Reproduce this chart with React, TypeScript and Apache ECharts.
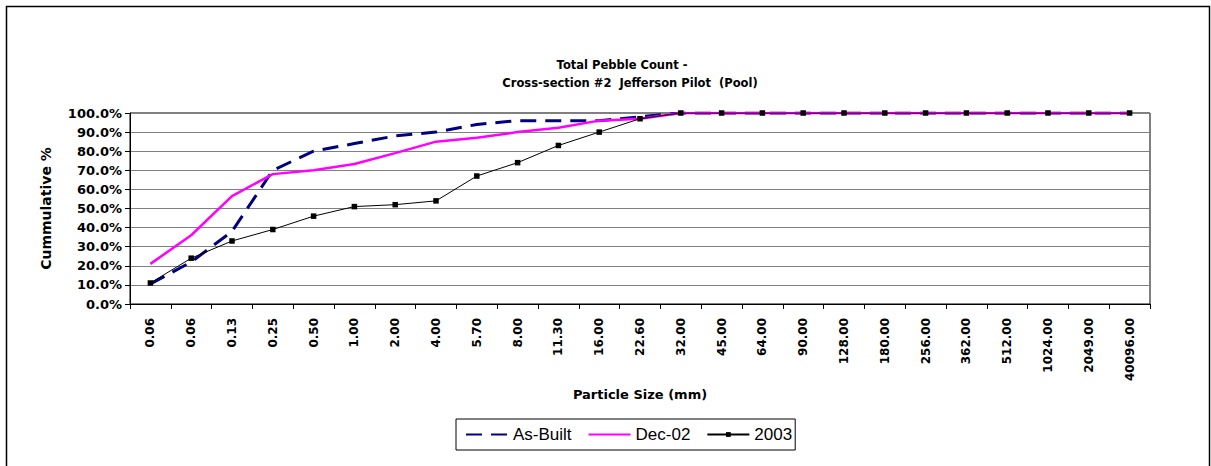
import React, { useEffect, useRef } from "react";
import * as echarts from "echarts";

const categories = [
  "0.06", "0.06", "0.13", "0.25", "0.50", "1.00", "2.00", "4.00", "5.70", "8.00",
  "11.30", "16.00", "22.60", "32.00", "45.00", "64.00", "90.00", "128.00", "180.00",
  "256.00", "362.00", "512.00", "1024.00", "2049.00", "40096.00",
];

const asBuilt = [
  10.5, 22, 38, 70, 80, 84, 88, 90, 94, 96, 96, 96, 98,
  100, 100, 100, 100, 100, 100, 100, 100, 100, 100, 100, 100,
];

const dec02 = [
  21, 36, 56.5, 68, 70, 73.3, 79, 85, 87, 90, 92.3, 96, 97,
  100, 100, 100, 100, 100, 100, 100, 100, 100, 100, 100, 100,
];

const y2003 = [
  11, 24, 33, 39, 46, 51, 52, 54, 67, 74, 83, 90, 97,
  100, 100, 100, 100, 100, 100, 100, 100, 100, 100, 100, 100,
];

const titleLines = ["Total Pebble Count -", "Cross-section #2  Jefferson Pilot  (Pool)"];

export default function App() {
  const ref = useRef<HTMLDivElement>(null);
  useEffect(() => {
    if (!ref.current) return;
    const chart = echarts.init(ref.current, null, { renderer: "svg" });
    const boldFont = "DejaVu Sans";
    chart.setOption({
      animation: false,
      backgroundColor: "#fff",
      graphic: [
        {
          type: "rect",
          shape: { x: 6.5, y: 6.5, width: 1203, height: 480 },
          style: { fill: "none", stroke: "#000", lineWidth: 1.5 },
          silent: true,
        },
        {
          type: "text",
          x: 622,
          y: 65,
          style: {
            text: titleLines[0],
            fontFamily: boldFont,
            fontWeight: "bold",
            fontSize: 11.5,
            fill: "#000",
            textAlign: "center",
            textVerticalAlign: "middle",
          },
        },
        {
          type: "text",
          x: 630,
          y: 82.5,
          style: {
            text: titleLines[1],
            fontFamily: boldFont,
            fontWeight: "bold",
            fontSize: 11.5,
            fill: "#000",
            textAlign: "center",
            textVerticalAlign: "middle",
          },
        },
      ],
      grid: {
        left: 130,
        right: 61,
        top: 113,
        bottom: 162,
        show: true,
        borderColor: "#000",
        borderWidth: 1,
        backgroundColor: "#fff",
      },
      legend: {
        left: 456,
        top: 419,
        orient: "horizontal",
        itemWidth: 42,
        itemHeight: 6,
        itemGap: 16,
        padding: [7, 3, 7, 9],
        borderColor: "#000",
        borderWidth: 1,
        textStyle: { fontFamily: "Liberation Sans", fontSize: 17, color: "#000" },
        data: [
          { name: "As-Built", itemStyle: { opacity: 0 } },
          { name: "Dec-02", itemStyle: { opacity: 0 } },
          { name: "2003" },
        ],
      },
      xAxis: {
        type: "category",
        data: categories,
        boundaryGap: true,
        name: "Particle Size (mm)",
        nameLocation: "middle",
        nameGap: 84,
        nameTextStyle: { fontFamily: boldFont, fontWeight: "bold", fontSize: 13, color: "#000" },
        axisLine: { lineStyle: { color: "#000", width: 1 } },
        axisTick: { show: true, interval: 0, length: 5, lineStyle: { color: "#000" } },
        axisLabel: {
          interval: 0,
          rotate: 90,
          margin: 14,
          fontFamily: boldFont,
          fontWeight: "bold",
          fontSize: 12,
          color: "#000",
        },
        splitLine: { show: false },
      },
      yAxis: {
        type: "value",
        min: 0,
        max: 100,
        interval: 10,
        name: "Cummulative %",
        nameLocation: "middle",
        nameRotate: 90,
        nameGap: 77,
        nameTextStyle: { fontFamily: boldFont, fontWeight: "bold", fontSize: 14, color: "#000" },
        axisLine: { show: true, lineStyle: { color: "#000", width: 1 } },
        axisTick: { show: true, length: 5, lineStyle: { color: "#000" } },
        axisLabel: {
          margin: 8,
          fontFamily: boldFont,
          fontWeight: "bold",
          fontSize: 13,
          color: "#000",
          formatter: (v: number) => v.toFixed(1) + "%",
        },
        splitLine: { show: true, lineStyle: { color: "#808080", width: 1 } },
      },
      series: [
        {
          name: "As-Built",
          type: "line",
          data: asBuilt,
          symbol: "none",
          lineStyle: { color: "#000080", width: 3, type: [16, 9] },
          itemStyle: { color: "#000080" },
          z: 2,
        },
        {
          name: "Dec-02",
          type: "line",
          data: dec02,
          symbol: "none",
          lineStyle: { color: "#FF00FF", width: 2.5 },
          itemStyle: { color: "#FF00FF" },
          z: 3,
        },
        {
          name: "2003",
          type: "line",
          data: y2003,
          symbol: "rect",
          symbolSize: 5.5,
          lineStyle: { color: "#000", width: 1 },
          itemStyle: { color: "#000" },
          z: 4,
        },
      ],
    });
    return () => chart.dispose();
  }, []);
  return (
    <div
      ref={ref}
      style={{ position: "fixed", left: 0, top: 0, width: 1211, height: 466 }}
    />
  );
}
